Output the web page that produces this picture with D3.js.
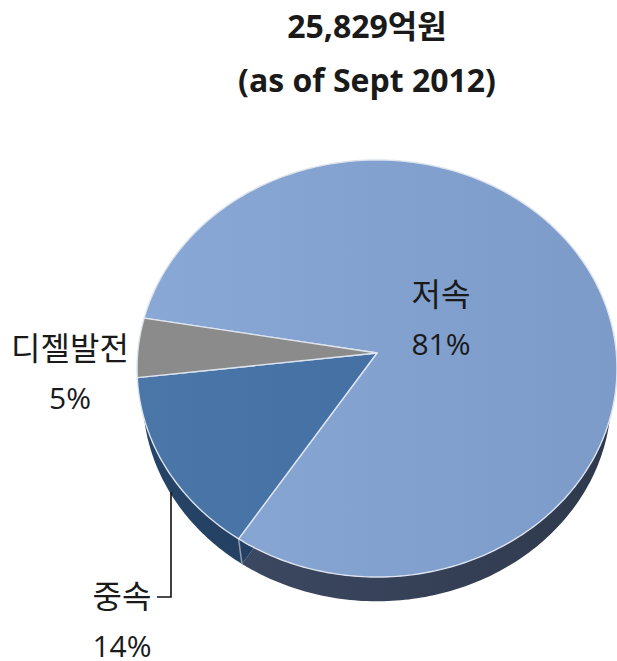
<!DOCTYPE html>
<html>
<head>
<meta charset="utf-8">
<script src="https://d3js.org/d3.v7.min.js"></script>
<style>
  html, body { margin: 0; padding: 0; background: #fff; }
  svg { display: block; }
  text { font-family: "Open Sans", "Noto Sans CJK KR", sans-serif; fill: #1a1a1a; }
</style>
</head>
<body>
<svg id="chart" width="617" height="661"></svg>
<script>
const titleLines = ["25,829억원", "(as of Sept 2012)"]
const categories = ["저속", "중속", "디젤발전"]
const shares = [81.4, 14.0, 4.6]

const width = 617
const height = 661

// slices start on the upper left, where the big one begins
const startAngle = 279.8 * Math.PI / 180

const topFace = { cx: 377, cy: 353, radius: 239.3, squash: 207.4, tilt: 0.0743 }
const bottomFace = { cx: 377, cy: 382, radius: 233.5, squash: 203, tilt: 0.0743 }

const topFills = [["#8aa8d6", "#7c9bc9"], ["#4b76a8", "#3f6a9f"], ["#8b8b8b", "#8b8b8b"]]
const wallFills = [["#3f4c66", "#2f394d"], ["#264467", "#1c3556"], ["#555", "#555"]]

// maps an angle on the round pie to the screen, near side drawn a bit larger
function project(angle, face) {
  const u = Math.sin(angle)
  const v = -Math.cos(angle)
  const w = 1 - face.tilt * v
  return [face.cx + face.radius * u / w, face.cy + face.squash * v / w]
}

function slicePath(d, face) {
  const steps = Math.max(2, Math.ceil((d.endAngle - d.startAngle) * 60))
  const rim = d3.range(steps + 1).map(i => {
    return project(d.startAngle + (d.endAngle - d.startAngle) * i / steps, face)
  })
  return d3.line()([[face.cx, face.cy], ...rim]) + "Z"
}

const svg = d3.select("#chart")
const defs = svg.append("defs")

function addGradient(id, colors) {
  const grad = defs.append("linearGradient")
    .attr("id", id)
    .attr("gradientUnits", "userSpaceOnUse")
    .attr("x1", 137).attr("x2", 617)
    .attr("y1", 0).attr("y2", 0)
  grad.append("stop").attr("offset", "0%").attr("stop-color", colors[0])
  grad.append("stop").attr("offset", "100%").attr("stop-color", colors[1])
}
topFills.forEach((c, i) => addGradient(`top-${i}`, c))
wallFills.forEach((c, i) => addGradient(`wall-${i}`, c))

const pie = d3.pie()
  .sort(null)
  .startAngle(startAngle)
  .endAngle(startAngle + 2 * Math.PI)
  .value(d => d)
const slices = pie(shares)

// side wall first, the top face covers most of it
svg.append("g").selectAll("path")
  .data(slices)
  .join("path")
  .attr("d", d => slicePath(d, bottomFace))
  .attr("fill", (d, i) => `url(#wall-${i})`)

// seam on the wall between the two blue slices
const seamAngle = slices[0].endAngle
svg.append("line")
  .attr("x1", project(seamAngle, topFace)[0])
  .attr("y1", project(seamAngle, topFace)[1])
  .attr("x2", project(seamAngle, bottomFace)[0])
  .attr("y2", project(seamAngle, bottomFace)[1])
  .attr("stroke", "#8f9cb0")
  .attr("stroke-width", 1.5)

svg.append("g").selectAll("path")
  .data(slices)
  .join("path")
  .attr("d", d => slicePath(d, topFace))
  .attr("fill", (d, i) => `url(#top-${i})`)
  .attr("stroke", "#dde4ee")
  .attr("stroke-width", 1.4)
  .attr("stroke-linejoin", "round")

svg.append("g").selectAll("text")
  .data(titleLines)
  .join("text")
  .attr("x", 367)
  .attr("y", (d, i) => 38 + i * 54)
  .attr("text-anchor", "middle")
  .style("font-size", "32px")
  .style("font-weight", "bold")
  .text(d => d)

// label anchors, [x, name baseline]
const labelSpots = [[441, 306], [122, 608], [70, 360]]
const pct = d3.format(".0f")

const labels = svg.append("g").selectAll("g")
  .data(slices)
  .join("g")
  .attr("text-anchor", "middle")

labels.append("text")
  .attr("x", (d, i) => labelSpots[i][0])
  .attr("y", (d, i) => labelSpots[i][1])
  .style("font-size", "32px")
  .text((d, i) => categories[i])

labels.append("text")
  .attr("x", (d, i) => labelSpots[i][0])
  .attr("y", (d, i) => labelSpots[i][1] + 49)
  .style("font-size", "30px")
  .text(d => `${pct(d.data)}%`)

// leader from the 중속 label up to its wedge
svg.append("path")
  .attr("d", d3.line()([[157, 597], [171, 597], [171, 492]]))
  .attr("fill", "none")
  .attr("stroke", "#111")
  .attr("stroke-width", 1.6)
</script>
</body>
</html>
